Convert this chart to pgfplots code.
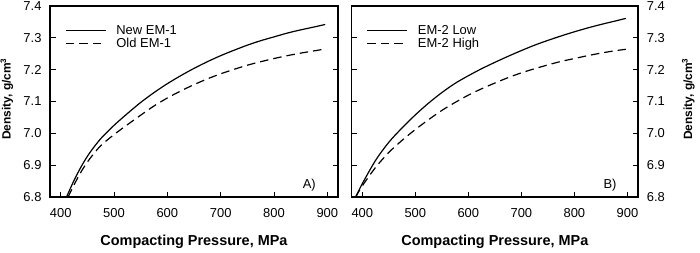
\documentclass[border=0pt]{standalone}
\usepackage{fontspec}
\setmainfont{Liberation Sans}
\usepackage{pgfplots}
\pgfplotsset{compat=1.18}

% Density vs compacting pressure, read as (MPa, g/cm^3)
\pgfplotstableread{
P D
411 6.800
425 6.852
440 6.900
455 6.940
475 6.983
500 7.025
525 7.062
550 7.097
575 7.128
600 7.156
625 7.181
650 7.204
675 7.225
700 7.244
725 7.261
750 7.277
775 7.291
800 7.303
825 7.315
850 7.325
875 7.334
896 7.342
}\newEMone
\pgfplotstableread{
P D
414 6.800
425 6.838
440 6.884
455 6.921
475 6.961
500 6.996
525 7.027
550 7.057
575 7.086
600 7.111
625 7.133
650 7.153
675 7.171
700 7.187
725 7.201
750 7.214
775 7.225
800 7.235
825 7.244
850 7.252
875 7.259
896 7.265
}\oldEMone
\pgfplotstableread{
P D
387.5 6.800
400 6.842
425 6.915
450 6.972
475 7.017
500 7.058
525 7.095
550 7.128
575 7.157
600 7.181
625 7.203
650 7.223
675 7.242
700 7.260
725 7.277
750 7.292
775 7.306
800 7.319
825 7.331
850 7.342
875 7.352
897 7.361
}\emtwoLow
\pgfplotstableread{
P D
387.5 6.800
400 6.835
425 6.893
450 6.940
475 6.978
500 7.012
525 7.043
550 7.072
575 7.097
600 7.120
625 7.140
650 7.158
675 7.175
700 7.190
725 7.203
750 7.215
775 7.226
800 7.235
825 7.244
850 7.252
875 7.259
897 7.264
}\emtwoHigh

\tikzset{
  curve/.style={black, line width=1.2bp},
  old curve/.style={black, line width=1.2bp, dash pattern=on 8.5bp off 5bp},
}

\pgfplotsset{
  density axis/.style={
    scale only axis,
    height=191bp,
    xmin=380, xmax=920, ymin=6.8, ymax=7.4,
    xtick={400,500,600,700,800,900},
    xticklabels={400,500,600,700,800,900},
    ytick={6.8,6.9,7.0,7.1,7.2,7.3,7.4},
    yticklabels={6.8,6.9,7.0,7.1,7.2,7.3,7.4},
    tick align=inside,
    xtick pos=left,
    ytick pos=both,
    major tick length=5.5bp,
    every tick/.style={black, line width=1bp},
    axis line style={line width=1.1bp},
    ticklabel style={font=\fontsize{13}{15}\selectfont},
    xticklabel style={anchor=base, yshift=-20.3bp},
    xlabel={Compacting Pressure, MPa},
    xlabel style={font=\fontsize{14.5}{17}\bfseries\selectfont,
      at={(axis description cs:0.5,-0.2565)}, anchor=base},
    ylabel={Density, g/cm\textsuperscript{3}},
    legend cell align=left,
    legend image code/.code={\draw[##1] (0bp,0bp) -- (40bp,0bp);},
    legend style={draw=none, fill=none, inner sep=0pt,
      font=\fontsize{13}{15}\selectfont,
      at={(axis description cs:0.052,0.90)}, anchor=north west,
      nodes={inner sep=0pt}, column sep=10bp, row sep=2bp},
  }
}

\begin{document}
\begin{tikzpicture}[x=1bp,y=1bp]
\path[use as bounding box] (0,0) rectangle (700,252);

% Panel A
\begin{axis}[density axis,
  at={(50bp,55bp)}, anchor=south west, width=288bp,
  yticklabel pos=left,
  yticklabel style={anchor=east, inner sep=0pt, xshift=-8.3bp},
  ylabel style={font=\fontsize{12}{14}\bfseries\selectfont,
    at={(axis description cs:-0.137,0.513)}, anchor=base},
]
\addplot[curve, smooth] table[x=P,y=D] {\newEMone};
\addlegendentry{New EM-1}
\addplot[old curve, smooth] table[x=P,y=D] {\oldEMone};
\addlegendentry{Old EM-1}
\node[anchor=base east, inner sep=0pt, font=\fontsize{13}{15}\selectfont]
  at (rel axis cs:0.9236,0.0455) {A)};
\end{axis}

% Panel B
\begin{axis}[density axis,
  at={(351.7bp,55bp)}, anchor=south west, width=286.3bp,
  yticklabel pos=right,
  yticklabel style={anchor=west, inner sep=0pt, xshift=8.7bp},
  ylabel style={font=\fontsize{12}{14}\bfseries\selectfont,
    at={(axis description cs:1.1886,0.513)}, anchor=base},
]
\addplot[curve, smooth] table[x=P,y=D] {\emtwoLow};
\addlegendentry{EM-2 Low}
\addplot[old curve, smooth] table[x=P,y=D] {\emtwoHigh};
\addlegendentry{EM-2 High}
\node[anchor=base east, inner sep=0pt, font=\fontsize{13}{15}\selectfont]
  at (rel axis cs:0.9256,0.0455) {B)};
\end{axis}
\end{tikzpicture}
\end{document}
